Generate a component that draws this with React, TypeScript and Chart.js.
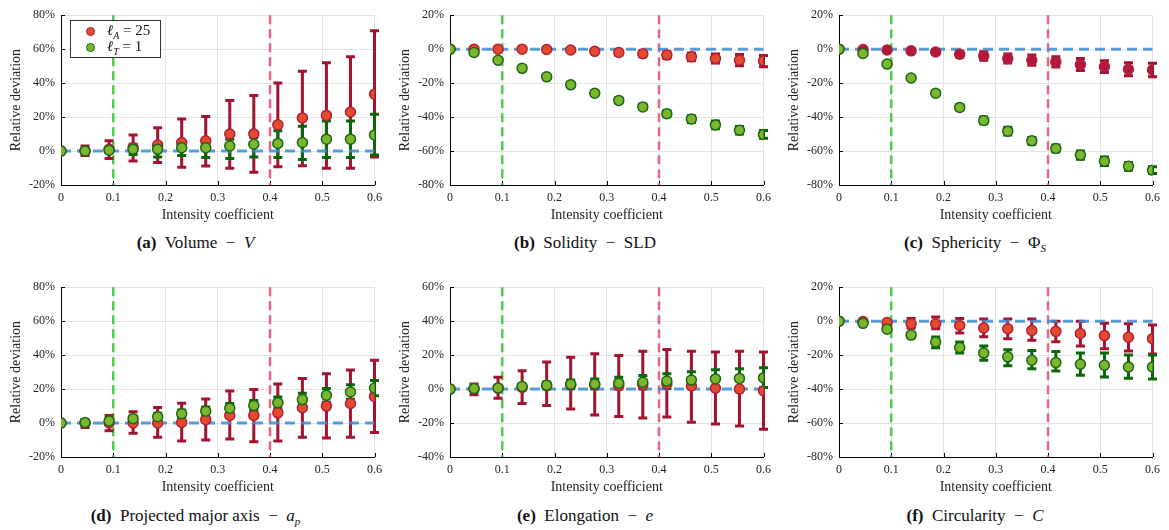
import React, { useEffect, useRef } from 'react';
import { Chart, registerables } from 'chart.js';

Chart.register(...registerables);

// ---------- data ----------
const xValues = [0, 0.046, 0.092, 0.138, 0.185, 0.231, 0.277, 0.323, 0.369, 0.415, 0.462, 0.508, 0.554, 0.6];
const xTickLabels = ['0', '0.1', '0.2', '0.3', '0.4', '0.5', '0.6'];
const refLinesX = [0.1, 0.4];
const refLineY = 0;
const seriesNames = ['ℓA = 25', 'ℓT = 1'];

// (a) Volume
const aRedMean = [0, 0, 1, 2, 3.5, 5, 6, 10, 10.2, 15.5, 19.5, 21, 23, 33.5];
const aRedHi = [0, 3, 6, 9.5, 13.7, 18.8, 20.4, 29.8, 32.7, 40, 47, 52, 55.5, 70.8];
const aRedLo = [0, -2.7, -4.4, -5.8, -6.7, -9.6, -8.8, -10.2, -12.5, -9.2, -8.7, -10.2, -10.2, -3.5];
const aGreenMean = [0, 0, 0.5, 1, 1, 2, 2, 3, 4, 4.5, 5, 7, 7, 9.5];
const aGreenHi = [0, 0.5, 1.8, 4, 4.5, 4.6, 5, 7, 8, 11.9, 14.6, 17.7, 17.7, 21.7];
const aGreenLo = [0, -0.5, -0.8, -2, -3.5, -2.7, -3.8, -4.4, -3.5, -3.8, -5, -3.8, -3.8, -2.3];

// (b) Solidity
const bRedMean = [0, 0, 0, 0, -0.2, -0.5, -1.3, -2, -2.7, -3.5, -4.5, -5.5, -6.5, -7];
const bRedHi = [0, 0.3, 0.4, 0.5, 0.4, 0.3, -0.3, -0.5, -1, -1.5, -2.2, -2.8, -3.2, -3.7];
const bRedLo = [0, -0.3, -0.4, -0.5, -0.8, -1.3, -2.3, -3.5, -4.4, -5.5, -6.8, -8.2, -9.8, -10.3];
const bGreenMean = [0, -2, -6.5, -11.3, -16.3, -21, -26, -30.2, -34, -38, -41.2, -44.6, -47.8, -50.2];
const bGreenHi = [0, -1.7, -6, -10.6, -15.5, -20, -24.8, -28.7, -32.5, -36.2, -39.2, -42.3, -45.6, -47.9];
const bGreenLo = [0, -2.3, -7, -12, -17.1, -22, -27.2, -31.7, -35.5, -39.8, -43.2, -46.9, -50, -52.5];

// (c) Sphericity
const cRedMean = [0, -0.2, -0.5, -1, -1.7, -3, -4, -5.5, -6.5, -7.5, -9, -10.3, -11.8, -12.3];
const cRedHi = [0, 0.1, 0, 0, -0.5, -1.2, -1.5, -2.8, -3.5, -4.5, -5.5, -6.8, -8, -8.3];
const cRedLo = [0, -0.5, -1, -2, -2.9, -4.8, -6.5, -8.2, -9.5, -10.5, -12.5, -13.8, -15.6, -16.3];
const cGreenMean = [0, -2.5, -8.8, -17, -26, -34.3, -42, -48.3, -54, -58.5, -62.4, -66, -69, -71.3];
const cGreenHi = [0, -2.2, -8.3, -16.2, -24.8, -32.8, -40, -46, -52, -56.5, -60, -63.5, -66.7, -69.3];
const cGreenLo = [0, -2.8, -9.3, -17.8, -27.2, -35.8, -44, -50.6, -56, -60.5, -64.8, -68.5, -71.3, -73.3];

// (d) Projected major axis
const dRedMean = [0, 0, 0, 0, 0, 0.3, 2, 4.5, 4.5, 6, 9, 10, 11.5, 15.7];
const dRedHi = [0, 2, 4.4, 6.7, 9.2, 11.7, 14.2, 18.8, 19.8, 23, 26.2, 29, 31.3, 37];
const dRedLo = [0, -2.7, -4.6, -6, -8.3, -10.6, -10, -9.4, -11, -10.6, -8.3, -8.8, -8.3, -5.6];
const dGreenMean = [0, 0.3, 1.2, 2.6, 3.7, 5.5, 7, 8.7, 10.3, 12, 13.8, 16.3, 18.3, 20.6];
const dGreenHi = [0, 0.6, 2.2, 4.1, 5.7, 7.7, 9.5, 11.5, 13.3, 15.3, 17.5, 20.3, 22.6, 25.1];
const dGreenLo = [0, 0, 0.2, 1.1, 1.7, 3.3, 4.5, 5.9, 7.3, 8.7, 10.1, 12.3, 14, 16.1];

// (e) Elongation
const eRedMean = [0, 0, 0.5, 1, 2, 2.5, 2.5, 2, 2.5, 3, 1.8, 0.5, 0, -1];
const eRedHi = [0, 3, 7, 10.8, 16, 18.7, 20.8, 19.8, 22.3, 23.3, 22.3, 21.9, 22.3, 21.9];
const eRedLo = [0, -3.3, -5.4, -8.5, -9.6, -11.7, -15.2, -16.2, -17.1, -16.5, -19.6, -20.6, -21.7, -23.7];
const eGreenMean = [0, 0.3, 0.7, 1.5, 2.2, 2.8, 3, 3.5, 4, 4.7, 5.3, 6, 6.3, 6.7];
const eGreenHi = [0, 0.6, 1.5, 3, 4.2, 5.4, 6, 7, 8, 9, 10.2, 11.4, 12, 12.5];
const eGreenLo = [0, 0, 0, 0, 0.2, 0.2, 0, 0, 0, 0.3, 0.4, 0.6, 0.6, 0.9];

// (f) Circularity
const fRedMean = [0, -0.2, -0.8, -1.5, -1.5, -2.5, -4, -4.5, -5.5, -6, -7.3, -8.5, -9.5, -10.3];
const fRedHi = [0, 0, 0.5, 1.5, 2.5, 1.5, 1.2, 1.2, 1.2, 0, 0, -1.2, -1.5, -2.3];
const fRedLo = [0, -0.4, -2, -4.2, -4.4, -6.9, -9.2, -10.4, -11.3, -12.1, -14.6, -16.3, -17.5, -19.4];
const fGreenMean = [0, -1.3, -4.7, -8.2, -12.3, -15.5, -18.8, -21, -23, -24.4, -25.4, -26, -27, -27];
const fGreenHi = [0, -1, -3.7, -6.7, -9.4, -12.3, -14.6, -16.9, -17.3, -17.9, -18.7, -18.8, -20, -20];
const fGreenLo = [0, -1.6, -5.7, -9.7, -15.6, -18.8, -23, -26.2, -28, -29.4, -31.9, -32.9, -33.6, -34];

// ---------- styles ----------
const FONT = "'Times New Roman', 'Liberation Serif', Tinos, 'DejaVu Serif', 'Noto Serif', serif";
const RED_FILL = '#e24b2c';
const RED_EDGE = '#b31f3c';
const RED_BAR = '#a3122f';
const GREEN_FILL = '#7db52f';
const GREEN_EDGE = '#156a12';
const GREEN_BAR = '#0b660b';
const REF_COLORS = ['rgba(60,200,60,0.9)', 'rgba(228,86,120,0.9)'];
const ZERO_COLOR = 'rgba(60,140,210,0.85)';
const GRID = '#e4e4e4';

type Series = { mean: number[]; lo: number[]; hi: number[] };
type PanelCfg = {
  left: number;
  top: number;
  yMin: number;
  yMax: number;
  red: Series;
  green: Series;
  redFill?: string;
};

const PW = 315;
const PH = 173;
const YW = 61;
const PAD_T = 10;
const PAD_R = 12;
const XH = 45;

const panels: PanelCfg[] = [
  { left: 61, top: 12, yMin: -20, yMax: 80, red: { mean: aRedMean, lo: aRedLo, hi: aRedHi }, green: { mean: aGreenMean, lo: aGreenLo, hi: aGreenHi } },
  { left: 450, top: 12, yMin: -80, yMax: 20, red: { mean: bRedMean, lo: bRedLo, hi: bRedHi }, green: { mean: bGreenMean, lo: bGreenLo, hi: bGreenHi } },
  { left: 839, top: 12, yMin: -80, yMax: 20, red: { mean: cRedMean, lo: cRedLo, hi: cRedHi }, green: { mean: cGreenMean, lo: cGreenLo, hi: cGreenHi }, redFill: '#b0193a' },
  { left: 61, top: 284, yMin: -20, yMax: 80, red: { mean: dRedMean, lo: dRedLo, hi: dRedHi }, green: { mean: dGreenMean, lo: dGreenLo, hi: dGreenHi } },
  { left: 450, top: 284, yMin: -40, yMax: 60, red: { mean: eRedMean, lo: eRedLo, hi: eRedHi }, green: { mean: eGreenMean, lo: eGreenLo, hi: eGreenHi } },
  { left: 839, top: 284, yMin: -80, yMax: 20, red: { mean: fRedMean, lo: fRedLo, hi: fRedHi }, green: { mean: fGreenMean, lo: fGreenLo, hi: fGreenHi } },
];

function Panel({ cfg }: { cfg: PanelCfg }) {
  const ref = useRef<HTMLCanvasElement | null>(null);
  useEffect(() => {
    if (!ref.current) return;
    const overlay = {
      id: 'overlay',
      beforeDatasetsDraw(chart: any) {
        const { ctx, chartArea } = chart;
        const { left, top, bottom } = chartArea;
        const xs = chart.scales.x;
        const ys = chart.scales.y;
        ctx.save();
        // inward tick marks
        ctx.strokeStyle = '#000';
        ctx.lineWidth = 1;
        ys.ticks.forEach((t: any) => {
          const py = Math.round(ys.getPixelForValue(t.value)) + 0.5;
          ctx.beginPath();
          ctx.moveTo(left, py);
          ctx.lineTo(left + 4, py);
          ctx.stroke();
        });
        xs.ticks.forEach((t: any) => {
          const px = Math.round(xs.getPixelForValue(t.value)) + 0.5;
          ctx.beginPath();
          ctx.moveTo(px, bottom);
          ctx.lineTo(px, bottom - 4);
          ctx.stroke();
        });
        // vertical reference lines
        ctx.lineWidth = 2.5;
        ctx.setLineDash([9, 5]);
        refLinesX.forEach((v, i) => {
          const px = xs.getPixelForValue(v);
          ctx.strokeStyle = REF_COLORS[i];
          ctx.beginPath();
          ctx.moveTo(px, top);
          ctx.lineTo(px, bottom);
          ctx.stroke();
        });
        ctx.setLineDash([]);
        // error bars
        const drawBars = (s: Series, color: string) => {
          ctx.strokeStyle = color;
          ctx.lineWidth = 3;
          ctx.lineCap = 'butt';
          xValues.forEach((xv, i) => {
            if (s.hi[i] === s.lo[i]) return;
            const px = xs.getPixelForValue(xv);
            const p1 = ys.getPixelForValue(s.hi[i]);
            const p2 = ys.getPixelForValue(s.lo[i]);
            ctx.beginPath();
            ctx.moveTo(px, p1);
            ctx.lineTo(px, p2);
            ctx.moveTo(px - 4.5, p1);
            ctx.lineTo(px + 4.5, p1);
            ctx.moveTo(px - 4.5, p2);
            ctx.lineTo(px + 4.5, p2);
            ctx.stroke();
          });
        };
        drawBars(cfg.red, RED_BAR);
        drawBars(cfg.green, GREEN_BAR);
        // zero line
        const py0 = ys.getPixelForValue(refLineY);
        ctx.strokeStyle = ZERO_COLOR;
        ctx.lineWidth = 3;
        ctx.setLineDash([10, 6]);
        ctx.beginPath();
        ctx.moveTo(xs.getPixelForValue(xValues[0]), py0);
        ctx.lineTo(xs.getPixelForValue(xValues[xValues.length - 1]), py0);
        ctx.stroke();
        ctx.restore();
      },
    };
    const tickFont = { family: FONT, size: 12 };
    const titleFont = { family: FONT, size: 14 };
    const chart = new Chart(ref.current, {
      type: 'scatter',
      data: {
        datasets: [
          {
            label: seriesNames[1],
            data: xValues.map((x, i) => ({ x, y: cfg.green.mean[i] })),
            backgroundColor: GREEN_FILL,
            borderColor: GREEN_EDGE,
            pointRadius: 5,
            borderWidth: 1.5,
            order: 0,
          },
          {
            label: seriesNames[0],
            data: xValues.map((x, i) => ({ x, y: cfg.red.mean[i] })),
            backgroundColor: cfg.redFill || RED_FILL,
            borderColor: RED_EDGE,
            pointRadius: 5,
            borderWidth: 1.5,
            order: 1,
          },
        ],
      },
      options: {
        responsive: false,
        maintainAspectRatio: false,
        animation: false,
        events: [],
        layout: { padding: { top: PAD_T, right: PAD_R, left: 0, bottom: 0 } },
        plugins: { legend: { display: false }, tooltip: { enabled: false } },
        scales: {
          x: {
            type: 'linear',
            min: 0,
            max: 0.6,
            afterFit: (s: any) => { s.height = XH; },
            ticks: {
              stepSize: 0.1,
              padding: 6,
              autoSkip: false,
              maxRotation: 0,
              font: tickFont,
              color: '#222',
              callback: (_v: any, idx: number) => xTickLabels[idx],
            },
            grid: { color: GRID, drawTicks: false },
            border: { color: '#000', width: 1 },
            title: { display: true, text: 'Intensity coefficient', font: titleFont, color: '#222', padding: { top: 0, bottom: 6 } },
          },
          y: {
            min: cfg.yMin,
            max: cfg.yMax,
            afterFit: (s: any) => { s.width = YW; },
            ticks: {
              stepSize: 20,
              padding: 6,
              font: tickFont,
              color: '#222',
              callback: (v: any) => `${v}%`,
            },
            grid: { color: GRID, drawTicks: false },
            border: { color: '#000', width: 1 },
            title: { display: true, text: 'Relative deviation', font: titleFont, color: '#222', padding: { top: 8, bottom: 0 } },
          },
        },
      } as any,
      plugins: [overlay],
    });
    return () => chart.destroy();
  }, [cfg]);
  const w = PW + YW + PAD_R;
  const h = PH + PAD_T + XH;
  return (
    <canvas
      ref={ref}
      width={w}
      height={h}
      style={{ position: 'absolute', left: cfg.left - YW, top: cfg.top - PAD_T, width: w, height: h }}
    />
  );
}

const captionStyle = (cx: number, cy: number): React.CSSProperties => ({
  position: 'absolute',
  left: cx - 160,
  top: cy - 11,
  width: 320,
  height: 22,
  lineHeight: '22px',
  textAlign: 'center',
  fontFamily: FONT,
  fontSize: 17,
  color: '#111',
  whiteSpace: 'nowrap',
});

const dot = (fill: string, edge: string, x: number, y: number): React.CSSProperties => ({
  position: 'absolute',
  left: x - 5,
  top: y - 5,
  width: 7,
  height: 7,
  borderRadius: '50%',
  background: fill,
  border: `1.5px solid ${edge}`,
});

const subStyle: React.CSSProperties = { fontSize: 10, fontStyle: 'italic' };

export default function App() {
  return (
    <div style={{ position: 'absolute', left: 0, top: 0, width: 1169, height: 530, background: '#fff', overflow: 'hidden' }}>
      {panels.map((p, i) => (
        <Panel key={i} cfg={p} />
      ))}
      {/* legend */}
      <div style={{ position: 'absolute', left: 70, top: 20, width: 89, height: 36, border: '1px solid #333', background: '#fff', fontFamily: FONT, fontSize: 15, color: '#111' }}>
        <div style={dot(RED_FILL, RED_EDGE, 20, 10.5)} />
        <div style={dot(GREEN_FILL, GREEN_EDGE, 20, 26.5)} />
        <div style={{ position: 'absolute', left: 36, top: 1, lineHeight: '17px', whiteSpace: 'nowrap' }}>
          <i>ℓ</i><sub style={subStyle}>A</sub> = 25
        </div>
        <div style={{ position: 'absolute', left: 36, top: 17, lineHeight: '17px', whiteSpace: 'nowrap' }}>
          <i>ℓ</i><sub style={subStyle}>T</sub> = 1
        </div>
      </div>
      {/* captions */}
      <div style={captionStyle(195.5, 243)}><b>(a)</b>&nbsp; Volume &nbsp;−&nbsp; <i>V</i></div>
      <div style={captionStyle(585, 243)}><b>(b)</b>&nbsp; Solidity &nbsp;−&nbsp; SLD</div>
      <div style={captionStyle(975, 243)}><b>(c)</b>&nbsp; Sphericity &nbsp;−&nbsp; Φ<sub style={{ fontSize: 11, fontStyle: 'italic' }}>S</sub></div>
      <div style={captionStyle(195.5, 515.5)}><b>(d)</b>&nbsp; Projected major axis &nbsp;−&nbsp; <i>a</i><sub style={{ fontSize: 11, fontStyle: 'italic' }}>p</sub></div>
      <div style={captionStyle(585, 515.5)}><b>(e)</b>&nbsp; Elongation &nbsp;−&nbsp; <i>e</i></div>
      <div style={captionStyle(975, 515.5)}><b>(f)</b>&nbsp; Circularity &nbsp;−&nbsp; <i>C</i></div>
    </div>
  );
}
